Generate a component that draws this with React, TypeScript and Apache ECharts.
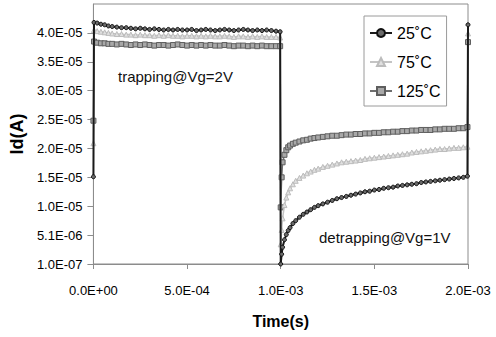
import React, { useEffect, useRef } from "react";
import * as echarts from "echarts";

// time in ms
const timesMs = [
  0, 0.003, 0.02, 0.04, 0.06, 0.08, 0.1,
  0.125, 0.15, 0.175, 0.2, 0.225, 0.25, 0.275, 0.3, 0.325, 0.35,
  0.375, 0.4, 0.425, 0.45, 0.475, 0.5, 0.525, 0.55, 0.575, 0.6,
  0.625, 0.65, 0.675, 0.7, 0.725, 0.75, 0.775, 0.8, 0.825, 0.85,
  0.875, 0.9, 0.925, 0.95, 0.975, 0.997,
  1.0, 1.005, 1.01, 1.02, 1.03, 1.04, 1.05, 1.065, 1.08, 1.1, 1.12, 1.14, 1.16, 1.18, 1.2,
  1.225, 1.25, 1.275, 1.3, 1.325, 1.35, 1.375, 1.4, 1.425, 1.45,
  1.475, 1.5, 1.525, 1.55, 1.575, 1.6, 1.625, 1.65, 1.675, 1.7,
  1.725, 1.75, 1.775, 1.8, 1.825, 1.85, 1.875, 1.9, 1.925, 1.95,
  1.975, 1.997, 2.0,
];

// drain current in µA
const id25 = [
  15.2, 41.9, 41.8, 41.6, 41.5, 41.3, 41.2,
  41.1, 41.0, 41.0, 40.9, 40.8, 40.9, 40.8, 40.7, 40.8, 40.7,
  40.6, 40.7, 40.6, 40.7, 40.6, 40.6, 40.7, 40.5, 40.6, 40.7,
  40.6, 40.5, 40.6, 40.7, 40.6, 40.5, 40.6, 40.7, 40.6, 40.5,
  40.6, 40.5, 40.6, 40.5, 40.4, 40.3,
  0.1, 1.8, 3.0, 4.3, 5.2, 5.9, 6.4, 7.1, 7.6, 8.2, 8.7, 9.1, 9.5, 9.9, 10.2,
  10.5, 10.8, 11.1, 11.4, 11.6, 11.8, 12.0, 12.2, 12.4, 12.6,
  12.7, 12.9, 13.0, 13.2, 13.3, 13.4, 13.6, 13.7, 13.8, 13.9,
  14.0, 14.2, 14.3, 14.4, 14.5, 14.6, 14.7, 14.8, 14.9, 15.0,
  15.1, 15.3, 41.5,
];

const id75 = [
  21.0, 40.6, 40.4, 40.3, 40.2, 40.1, 40.0,
  39.9, 39.9, 39.8, 39.8, 39.7, 39.8, 39.7, 39.7, 39.6, 39.7,
  39.6, 39.7, 39.6, 39.6, 39.5, 39.6, 39.6, 39.5, 39.6, 39.5,
  39.6, 39.5, 39.5, 39.6, 39.5, 39.4, 39.5, 39.5, 39.4, 39.5,
  39.4, 39.5, 39.4, 39.4, 39.4, 39.3,
  3.5, 6.0, 8.0, 10.3, 11.6, 12.5, 13.2, 13.9, 14.5, 15.0, 15.4, 15.8, 16.1, 16.4, 16.6,
  16.9, 17.1, 17.3, 17.5, 17.7, 17.8, 17.9, 18.0, 18.1, 18.3,
  18.4, 18.5, 18.6, 18.7, 18.8, 18.9, 19.0, 19.1, 19.2, 19.4,
  19.5, 19.6, 19.7, 19.8, 19.9, 20.0, 20.0, 20.1, 20.2, 20.2,
  20.3, 20.4, 40.0,
];

const id125 = [
  24.9, 38.6, 38.4, 38.3, 38.3, 38.2, 38.2,
  38.1, 38.2, 38.1, 38.0, 38.1, 38.0, 38.1, 38.0, 37.9, 38.0,
  38.0, 37.9, 38.0, 38.1, 38.0, 37.9, 38.0, 37.9, 38.0, 37.9,
  38.0, 37.9, 37.9, 38.0, 37.9, 37.8, 37.9, 37.9, 37.8, 37.9,
  37.8, 37.9, 37.8, 37.8, 37.8, 37.8,
  9.9, 15.1, 17.7, 19.0, 19.8, 20.3, 20.6, 20.9, 21.1, 21.3, 21.5, 21.6, 21.8, 21.9, 22.0,
  22.1, 22.2, 22.3, 22.3, 22.4, 22.5, 22.5, 22.6, 22.6, 22.7,
  22.7, 22.8, 22.8, 22.9, 22.9, 23.0, 23.0, 23.1, 23.1, 23.2,
  23.2, 23.3, 23.3, 23.3, 23.4, 23.4, 23.5, 23.5, 23.5, 23.6,
  23.6, 23.8, 38.5,
];

const seriesNames = ["25˚C", "75˚C", "125˚C"];
const annotations = ["trapping@Vg=2V", "detrapping@Vg=1V"];

const FONT = "'Liberation Sans', Arial, sans-serif";

function sci(v: number): string {
  const s = v.toExponential(1);
  const [m, e] = s.split("e");
  const n = parseInt(e, 10);
  const sign = n < 0 ? "-" : "+";
  const a = Math.abs(n);
  return m + "E" + sign + (a < 10 ? "0" + a : String(a));
}

export default function App() {
  const ref = useRef<HTMLDivElement>(null);
  useEffect(() => {
    if (!ref.current) return;
    const chart = echarts.init(ref.current, undefined, { renderer: "svg" });
    const mk = (vals: number[]) => timesMs.map((t, i) => [t, vals[i]]);
    chart.setOption({
      animation: false,
      backgroundColor: "#fff",
      textStyle: { fontFamily: FONT },
      grid: {
        left: 93,
        right: 28,
        top: 4,
        bottom: 73,
        show: true,
        borderColor: "#8c8c8c",
        borderWidth: 1,
        backgroundColor: "transparent",
      },
      legend: {
        orient: "vertical",
        left: 364,
        top: 16,
        data: seriesNames,
        backgroundColor: "#fff",
        borderColor: "#9a9a9a",
        borderWidth: 1,
        borderRadius: 0,
        padding: [8, 6, 6, 5],
        itemWidth: 22,
        itemHeight: 10,
        itemGap: 11,
        textStyle: { fontFamily: FONT, fontSize: 16, color: "#000", lineHeight: 18 },
      },
      xAxis: {
        type: "value",
        min: 0,
        max: 2,
        interval: 0.5,
        name: "Time(s)",
        nameLocation: "middle",
        nameGap: 49,
        nameTextStyle: { fontFamily: FONT, fontSize: 16, fontWeight: "bold", color: "#000" },
        axisLine: { show: true, lineStyle: { color: "#8c8c8c", width: 1 } },
        axisTick: { show: true, inside: false, length: 5, lineStyle: { color: "#8c8c8c" } },
        splitLine: { show: false },
        axisLabel: {
          margin: 20,
          fontSize: 13,
          color: "#000",
          fontFamily: FONT,
          formatter: (v: number) => sci(v * 1e-3),
        },
      },
      yAxis: {
        type: "value",
        min: 0.1,
        max: 45.1,
        interval: 5,
        name: "Id(A)",
        nameLocation: "middle",
        nameGap: 62,
        nameRotate: 90,
        nameTextStyle: { fontFamily: FONT, fontSize: 18, fontWeight: "bold", color: "#000" },
        axisLine: { show: true, lineStyle: { color: "#8c8c8c", width: 1 } },
        axisTick: { show: true, inside: false, length: 6, lineStyle: { color: "#8c8c8c" } },
        splitLine: { show: false },
        axisLabel: {
          margin: 11,
          fontSize: 13,
          color: "#000",
          fontFamily: FONT,
          showMaxLabel: false,
          formatter: (v: number) => (v > 45 ? "" : sci(v * 1e-6)),
        },
      },
      graphic: [
        {
          type: "text",
          left: 118,
          top: 69,
          style: { text: annotations[0], font: `15px ${FONT}`, fill: "#111" },
          z: 100,
        },
        {
          type: "text",
          left: 319,
          top: 230,
          style: { text: annotations[1], font: `15px ${FONT}`, fill: "#111" },
          z: 100,
        },
      ],
      series: [
        {
          name: seriesNames[0],
          type: "line",
          data: mk(id25),
          symbol: "circle",
          symbolSize: 4,
          showAllSymbol: true,
          lineStyle: { color: "#1a1a1a", width: 2 },
          itemStyle: { color: "#6a6a6a", borderColor: "#111", borderWidth: 1 },
          z: 4,
        },
        {
          name: seriesNames[1],
          type: "line",
          data: mk(id75),
          symbol: "triangle",
          symbolSize: 5,
          showAllSymbol: true,
          lineStyle: { color: "#c4c4c4", width: 1.5 },
          itemStyle: { color: "#e0e0e0", borderColor: "#bcbcbc", borderWidth: 1 },
          z: 3,
        },
        {
          name: seriesNames[2],
          type: "line",
          data: mk(id125),
          symbol: "rect",
          symbolSize: 5,
          showAllSymbol: true,
          lineStyle: { color: "#6e6e6e", width: 1.5 },
          itemStyle: { color: "#a8a8a8", borderColor: "#5e5e5e", borderWidth: 1 },
          z: 2,
        },
      ],
    });
    return () => chart.dispose();
  }, []);
  return <div ref={ref} style={{ width: 496, height: 337, position: "fixed", left: 0, top: 0 }} />;
}
